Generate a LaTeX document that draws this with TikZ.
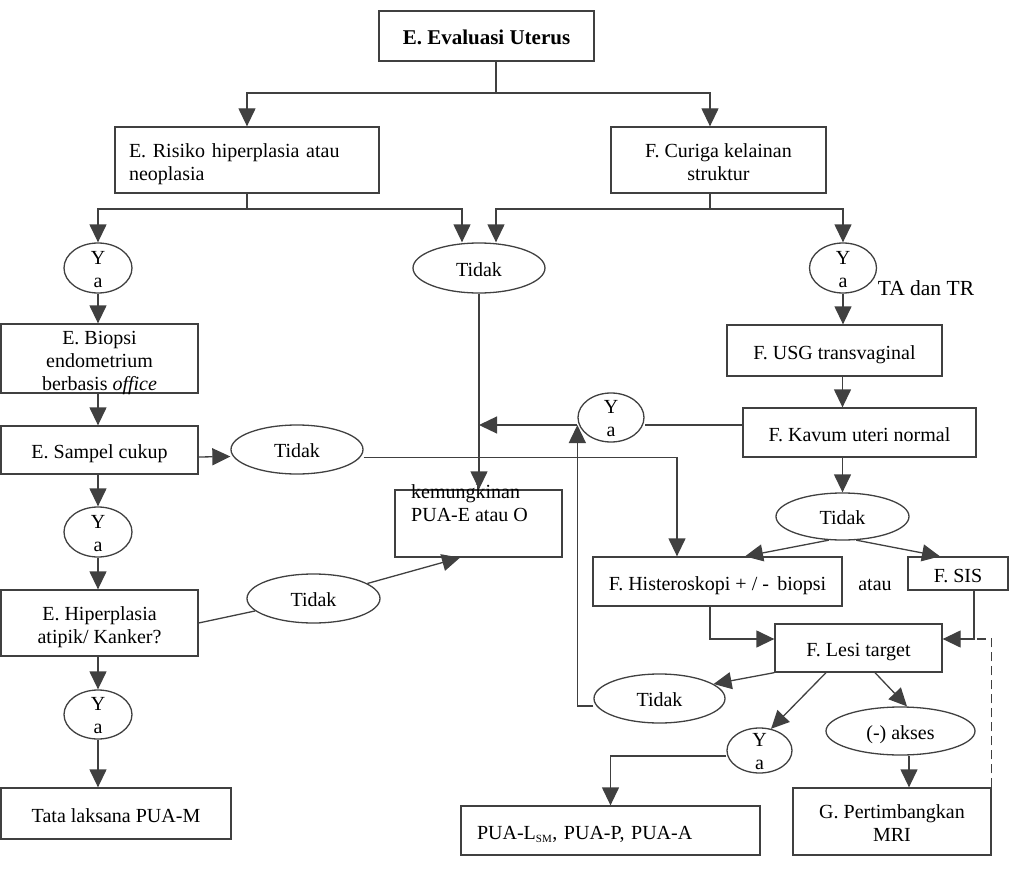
\documentclass[tikz,border=0pt]{standalone}
\usepackage{fontspec}
\setmainfont{Liberation Serif}
\usetikzlibrary{shapes.geometric,arrows.meta}
\newcommand{\tx}[1]{\raisebox{-4pt}[\height][\depth]{\begin{tabular}{@{}c@{}}#1\end{tabular}}}
\newcommand{\txl}[1]{\raisebox{-4pt}[\height][\depth]{\begin{tabular}{@{}l@{}}#1\end{tabular}}}
\newcommand{\ov}[1]{\raisebox{-8pt}[0pt][0pt]{#1}}
\newcommand{\yalbl}{\raisebox{-19pt}[0pt][0pt]{\begin{tabular}[b]{@{}c@{}}Y\\a\end{tabular}}}
\begin{document}
\begin{tikzpicture}[x=1pt,y=-1pt,
  every node/.style={font=\fontsize{20}{23}\selectfont},
  box/.style={draw=black!75, line width=1.3pt, rectangle, inner sep=0pt},
  oval/.style={draw=black!75, line width=1.3pt, ellipse, inner sep=0pt},
  ln/.style={draw=black!75, line width=1.3pt},
  arr/.style={ln, -{Triangle[width=17pt,length=18pt]}}]
\useasboundingbox (0,0) rectangle (1010,872);

% nodes
\node[box, minimum width=215, minimum height=50, font=\fontsize{21}{24}\selectfont\bfseries] (eval) at (486.5,36) {\tx{E. Evaluasi Uterus}};
\node[box, minimum height=66, text width=236, inner xsep=14, align=left] (risiko) at (247,160) {\txl{E. Risiko hiperplasia atau\\neoplasia}};
\node[box, minimum width=215, minimum height=66] (curiga) at (718.5,160) {\tx{F. Curiga kelainan\\struktur}};
\node[oval, minimum width=68, minimum height=50] (yaA) at (98,268) {\yalbl};
\node[oval, minimum width=132, minimum height=50] (tidakA) at (479,268) {\ov{Tidak}};
\node[oval, minimum width=67, minimum height=50] (yaB) at (843,268) {\yalbl};
\node[font=\fontsize{21.5}{24}\selectfont] (tatr) at (926,288) {TA dan TR};

\node[box, minimum width=197, minimum height=67] (biopsi) at (99.5,358.5) {\tx{E. Biopsi\\endometrium\\berbasis \textit{office}}};
\node[box, minimum width=197, minimum height=48] (sampel) at (99.5,450) {\tx{E. Sampel cukup}};
\node[oval, minimum width=132, minimum height=49] (tidakB) at (297,449.5) {\ov{Tidak}};
\node[oval, minimum width=68, minimum height=50] (yaC) at (98,532) {\yalbl};
\node[box, minimum width=197, minimum height=66] (hiper) at (99.5,623) {\tx{E. Hiperplasia\\atipik/ Kanker?}};
\node[oval, minimum width=133, minimum height=49] (tidakC) at (313.5,598.5) {\ov{Tidak}};
\node[oval, minimum width=68, minimum height=49] (yaD) at (98,714.5) {\yalbl};
\node[box, minimum width=230, minimum height=51] (tata) at (116,813.5) {\tx{Tata laksana PUA-M}};

\node[box, minimum width=167, minimum height=67] (pua) at (478.5,523.5) {};
\node[anchor=west, align=left, inner sep=0pt] (puat) at (411,503.5) {kemungkinan\\PUA-E atau O};

\node[oval, minimum width=66, minimum height=49] (yaE) at (611,417.5) {\yalbl};
\node[box, minimum width=215, minimum height=51] (usg) at (834.5,350.5) {\tx{F. USG transvaginal}};
\node[box, minimum width=233, minimum height=49] (kavum) at (859.5,432.5) {\tx{F. Kavum uteri normal}};
\node[oval, minimum width=133, minimum height=47] (tidakD) at (842.5,516.5) {\ov{Tidak}};
\node[box, minimum width=249, minimum height=49] (hist) at (717.5,581.5) {\tx{F. Histeroskopi + / -\, biopsi}};
\node (atau) at (875,585) {atau};
\node[box, minimum width=100, minimum height=33] (sis) at (958,573.5) {\tx{F. SIS}};
\node[box, minimum width=167, minimum height=48] (lesi) at (858.5,648) {\tx{F. Lesi target}};
\node[oval, minimum width=131, minimum height=49] (tidakE) at (659.5,698.5) {\ov{Tidak}};
\node[oval, minimum width=65, minimum height=45] (yaF) at (759.5,750.5) {\yalbl};
\node[oval, minimum width=149, minimum height=48] (akses) at (900.5,731) {\ov{(-) akses}};
\node[box, minimum width=198, minimum height=67] (gmri) at (892,821.5) {\tx{G. Pertimbangkan\\MRI}};
\node[box, minimum height=49, text width=267, inner xsep=16, align=left] (pual) at (610.5,830.5) {\txl{PUA-L\textsubscript{\fontsize{11}{11}\selectfont SM}, PUA-P, PUA-A}};

% helper coordinates
\coordinate (j1) at (496,93);
\coordinate (j2) at (247,209);
\coordinate (j3) at (710,209);
\coordinate (yaEw) at ([yshift=-7.5]yaE.west);
\coordinate (lesiE) at ([yshift=9]lesi.east);
\coordinate (sisS) at ([xshift=16]sis.south);

% connectors
\draw[ln] (eval.south -| j1) -- (j1);
\draw[arr] (j1) -| (risiko.north);
\draw[arr] (j1) -| ([xshift=-8.5]curiga.north);
\draw[ln] (risiko.south) -- (j2);
\draw[arr] (j2) -| (yaA.north);
\draw[arr] (j2) -| ([xshift=-17]tidakA.north);
\draw[ln] (curiga.south -| j3) -- (j3);
\draw[arr] (j3) -| ([xshift=17]tidakA.north);
\draw[arr] (j3) -| (yaB.north);

\draw[arr] (yaA.south) -- (yaA.south |- biopsi.north);
\draw[arr] (yaA.south |- biopsi.south) -- (yaA.south |- sampel.north);
\draw[arr] (yaC.north |- sampel.south) -- (yaC.north);
\draw[arr] (yaC.south) -- (yaC.south |- hiper.north);
\draw[arr] (yaD.north |- hiper.south) -- (yaD.north);
\draw[arr] (yaD.south) -- (yaD.south |- tata.north);

\draw[arr] ([yshift=-7]sampel.east) -- ([yshift=-7]tidakB.west);
\draw[arr] ([yshift=-8]tidakB.east) -| ([xshift=-40.5]hist.north);
\draw[ln] (hiper.east) -- (tidakC);
\draw[arr] (tidakC) -- ([xshift=-18.5]pua.south);
\draw[arr] (tidakA.south) -- (tidakA.south |- pua.north);

\draw[ln] ([yshift=7.5]kavum.west) -- ([yshift=-7.5]yaE.east);
\draw[arr] (yaEw) -- (tidakA.south |- yaEw);
\draw[arr] ([yshift=-7.5]tidakE.west) -| (yaEw);

\draw[arr] (yaB.south) -- (yaB.south |- usg.north);
\draw[arr] (tidakD.north |- usg.south) -- (tidakD.north |- kavum.north);
\draw[arr] (tidakD.north |- kavum.south) -- (tidakD.north);
\draw[arr] (tidakD.-120) -- ([xshift=27.5]hist.north);
\draw[arr] (tidakD.-60) -- ([xshift=-18]sis.north);
\draw[arr] ([xshift=-7.5]hist.south) |- ([yshift=9]lesi.west);
\draw[arr] (sisS) |- (lesiE);
\draw[ln, dashed, dash pattern=on 9pt off 5pt] (gmri.north east) |- (sisS |- lesiE);

\draw[arr] (lesi.south west) -- (tidakE.15);
\draw[arr] ([xshift=-32.5]lesi.south) -- (yaF.62);
\draw[arr] ([xshift=16.5]lesi.south) -- ([xshift=6.5]akses.north);
\draw[arr] ([xshift=8.5]akses.south) -- ([xshift=8.5]akses.south |- gmri.north);
\draw[arr] ([yshift=-5.5]yaF.west) -| (pual.north);
\end{tikzpicture}
\end{document}
